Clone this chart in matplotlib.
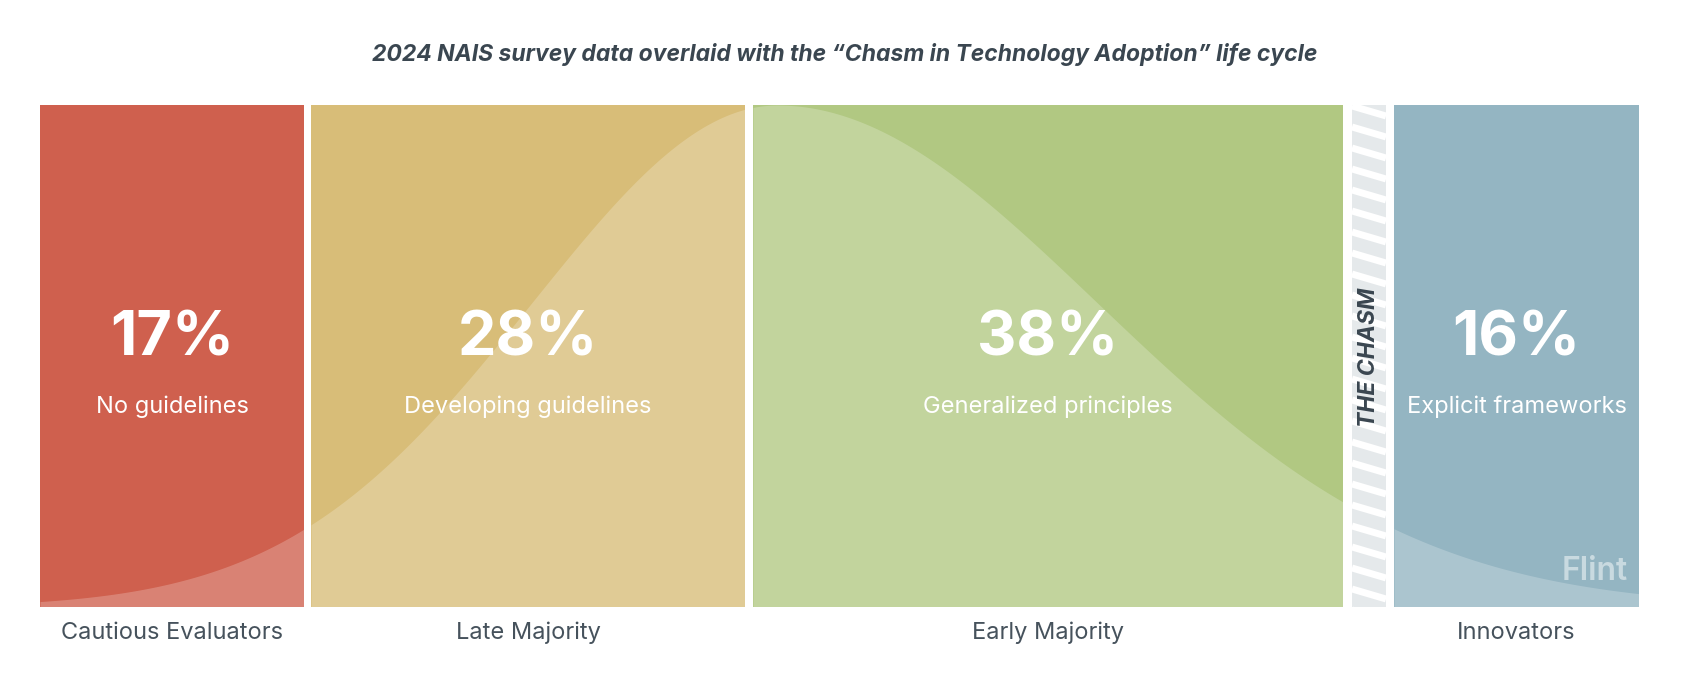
import numpy as np
import matplotlib.pyplot as plt

# segment data
SEGMENTS = ["Cautious Evaluators", "Late Majority", "Early Majority", "Innovators"]
SHARES = [17, 28, 38, 16]
POLICIES = ["No guidelines", "Developing guidelines", "Generalized principles", "Explicit frameworks"]
COLORS = ["#CF604E", "#D8BD78", "#B1C882", "#94B5C2"]
TITLE = "2024 NAIS survey data overlaid with the \u201cChasm in Technology Adoption\u201d life cycle"

# layout in pixel units
W, H = 1683, 686
BARS = [(40, 304), (311, 745), (753, 1343), (1394, 1639)]
CHASM = (1352, 1386)
TOP, BOT = 105, 607
PEAK, S_LEFT, S_RIGHT = 777, 245, 320

plt.rcParams["font.family"] = ["Inter", "DejaVu Sans"]
fig = plt.figure(figsize=(W / 100, H / 100), dpi=100)
ax = fig.add_axes([0, 0, 1, 1])
ax.set_xlim(0, W); ax.set_ylim(H, 0); ax.axis("off")


def curve(x):
    s = np.where(x < PEAK, S_LEFT, S_RIGHT)
    return BOT - (BOT - TOP) * np.exp(-(x - PEAK) ** 2 / (2 * s ** 2))


for (x0, x1), seg, share, pol, col in zip(BARS, SEGMENTS, SHARES, POLICIES, COLORS):
    ax.fill_between([x0, x1], TOP, BOT, color=col, lw=0)
    xs = np.linspace(x0, x1, 200)
    ax.fill_between(xs, curve(xs), BOT, color="white", alpha=0.22, lw=0)
    cx = (x0 + x1) / 2
    ax.text(cx, 340, f"{share}%", ha="center", va="center", color="white",
            fontsize=44, fontweight="bold")
    ax.text(cx, 407, pol, ha="center", va="center", color="white", fontsize=17)
    ax.text(cx, 633, seg, ha="center", va="center", color="#46525C", fontsize=17)

# the chasm: light grey strip with white diagonal stripes
cx0, cx1 = CHASM
ax.fill_between([cx0, cx1], TOP, BOT, color="#E5E9EB", lw=0)
for y in np.arange(TOP - 20, BOT + 10, 21):
    ax.plot([cx0, cx1], [y, y + 10], color="white", lw=5, solid_capstyle="butt")
ax.fill_between([cx0 - 8, cx0], TOP - 25, BOT + 25, color="white", lw=0)
ax.fill_between([cx1, cx1 + 7], TOP - 25, BOT + 25, color="white", lw=0)
ax.fill_between([cx0, cx1], TOP - 25, TOP, color="white", lw=0)
ax.fill_between([cx0, cx1], BOT, BOT + 25, color="white", lw=0)
ax.text((cx0 + cx1) / 2, 357, "THE CHASM", rotation=90, ha="center", va="center",
        color="#3A4650", fontsize=16.5, fontweight="bold", fontstyle="italic")

ax.text(1595, 572, "Flint", ha="center", va="center", color="white", alpha=0.5,
        fontsize=23, fontweight="semibold")
ax.text(845, 55, TITLE, ha="center", va="center", color="#3A4650",
        fontsize=16.5, fontweight="bold", fontstyle="italic")

fig.savefig("out.png", dpi=100)
